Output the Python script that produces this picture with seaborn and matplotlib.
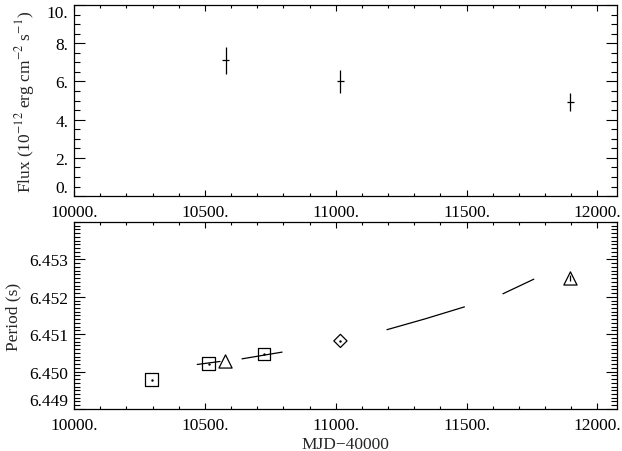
import numpy as np
import pandas as pd
import matplotlib
matplotlib.use('Agg')
import matplotlib.pyplot as plt
from matplotlib.ticker import MultipleLocator
import seaborn as sns

# flux measurements (top panel)
flux_mjd = [10579, 11018, 11897]
flux_val = [7.10, 6.00, 4.92]
flux_err = [0.70, 0.60, 0.48]
flux_xerr = [12, 12, 12]

# period measurements (bottom panel)
sq_mjd = [10297, 10515, 10726]
sq_per = [6.44978, 6.45021, 6.45047]
tri_mjd = [10579, 11897]
tri_per = [6.45027, 6.45249]
tri_err = [0.0, 0.00008]
dia_mjd = [11018]
dia_per = [6.45082]

# local period derivative segments
seg_id = [1, 1, 2, 2, 3, 3, 3, 4, 4]
seg_mjd = [10471, 10558, 10642, 10795, 11196, 11342, 11492, 11639, 11757]
seg_per = [6.45019, 6.45027, 6.45034, 6.45052, 6.45112, 6.45141, 6.45173, 6.45208, 6.45247]

x_ticks = [10000, 10500, 11000, 11500, 12000]
x_labels = ['10000.', '10500.', '11000.', '11500.', '12000.']
flux_ticks = [0, 2, 4, 6, 8, 10]
flux_labels = ['0.', '2.', '4.', '6.', '8.', '10.']
per_ticks = [6.449, 6.450, 6.451, 6.452, 6.453]
per_labels = ['6.449', '6.450', '6.451', '6.452', '6.453']

sns.set_style('ticks')
plt.rcParams['font.family'] = ['Liberation Serif', 'DejaVu Serif']
plt.rcParams['mathtext.fontset'] = 'stix'
plt.rcParams['font.size'] = 12.5

fig = plt.figure(figsize=(6.22, 4.52), dpi=100)
ax1 = fig.add_axes([0.119, 0.564, 0.873, 0.4226])
ax2 = fig.add_axes([0.119, 0.093, 0.873, 0.4137])

# top panel: flux
ax1.errorbar(flux_mjd, flux_val, yerr=flux_err, xerr=flux_xerr, fmt='none',
             ecolor='black', elinewidth=0.9, capsize=0)
ax1.set_ylabel('Flux (10$^{-12}$ erg cm$^{-2}$ s$^{-1}$)')

# bottom panel: period
seg_df = pd.DataFrame({'seg': seg_id, 'mjd': seg_mjd, 'per': seg_per})
sns.lineplot(data=seg_df, x='mjd', y='per', units='seg', estimator=None,
             color='black', linewidth=0.9, ax=ax2, sort=False)
sns.scatterplot(x=sq_mjd, y=sq_per, marker='s', s=85, facecolor='none',
                edgecolor='black', linewidth=0.9, ax=ax2, zorder=3)
sns.scatterplot(x=tri_mjd, y=tri_per, marker='^', s=90, facecolor='none',
                edgecolor='black', linewidth=0.9, ax=ax2, zorder=3)
sns.scatterplot(x=dia_mjd, y=dia_per, marker='D', s=45, facecolor='none',
                edgecolor='black', linewidth=0.9, ax=ax2, zorder=3)
ax2.errorbar(tri_mjd, tri_per, yerr=tri_err, fmt='none', ecolor='black',
             elinewidth=0.9, capsize=0)
ax2.plot(sq_mjd + dia_mjd, sq_per + dia_per, '.', color='black', markersize=1.5)
ax2.set_xlabel('MJD\u221240000', labelpad=2)
ax2.set_ylabel('Period (s)')

ax1.set_yticks(flux_ticks, flux_labels)
ax2.set_yticks(per_ticks, per_labels)
ax1.yaxis.set_minor_locator(MultipleLocator(0.5))
ax2.yaxis.set_minor_locator(MultipleLocator(0.0001))

for ax in (ax1, ax2):
    ax.set_xticks(x_ticks, x_labels)
    ax.xaxis.set_minor_locator(MultipleLocator(100))
    ax.tick_params(which='both', direction='in', top=True, right=True,
                   colors='black', labelsize=12.5)
    ax.tick_params(axis='x', which='major', length=4, width=0.8, pad=6)
    ax.tick_params(axis='x', which='minor', length=2, width=0.8)
    ax.tick_params(axis='y', which='major', length=8, width=0.8, pad=4)
    ax.tick_params(axis='y', which='minor', length=4, width=0.8)
    for sp in ax.spines.values():
        sp.set_linewidth(0.9)
        sp.set_color('black')

# keep end labels inside the axis span, as in the original
labs = ax1.get_yticklabels()
labs[0].set_va('bottom')
labs[-1].set_va('top')
ax2.get_yticklabels()[0].set_va('bottom')

ax1.yaxis.labelpad = 7
ax2.yaxis.labelpad = 6

ax1.set_xlim(10000, 12075)
ax1.set_ylim(0, 10)
ax2.set_xlim(10000, 12075)
ax2.set_ylim(6.449, 6.454)

fig.savefig('out.png', dpi=100)
